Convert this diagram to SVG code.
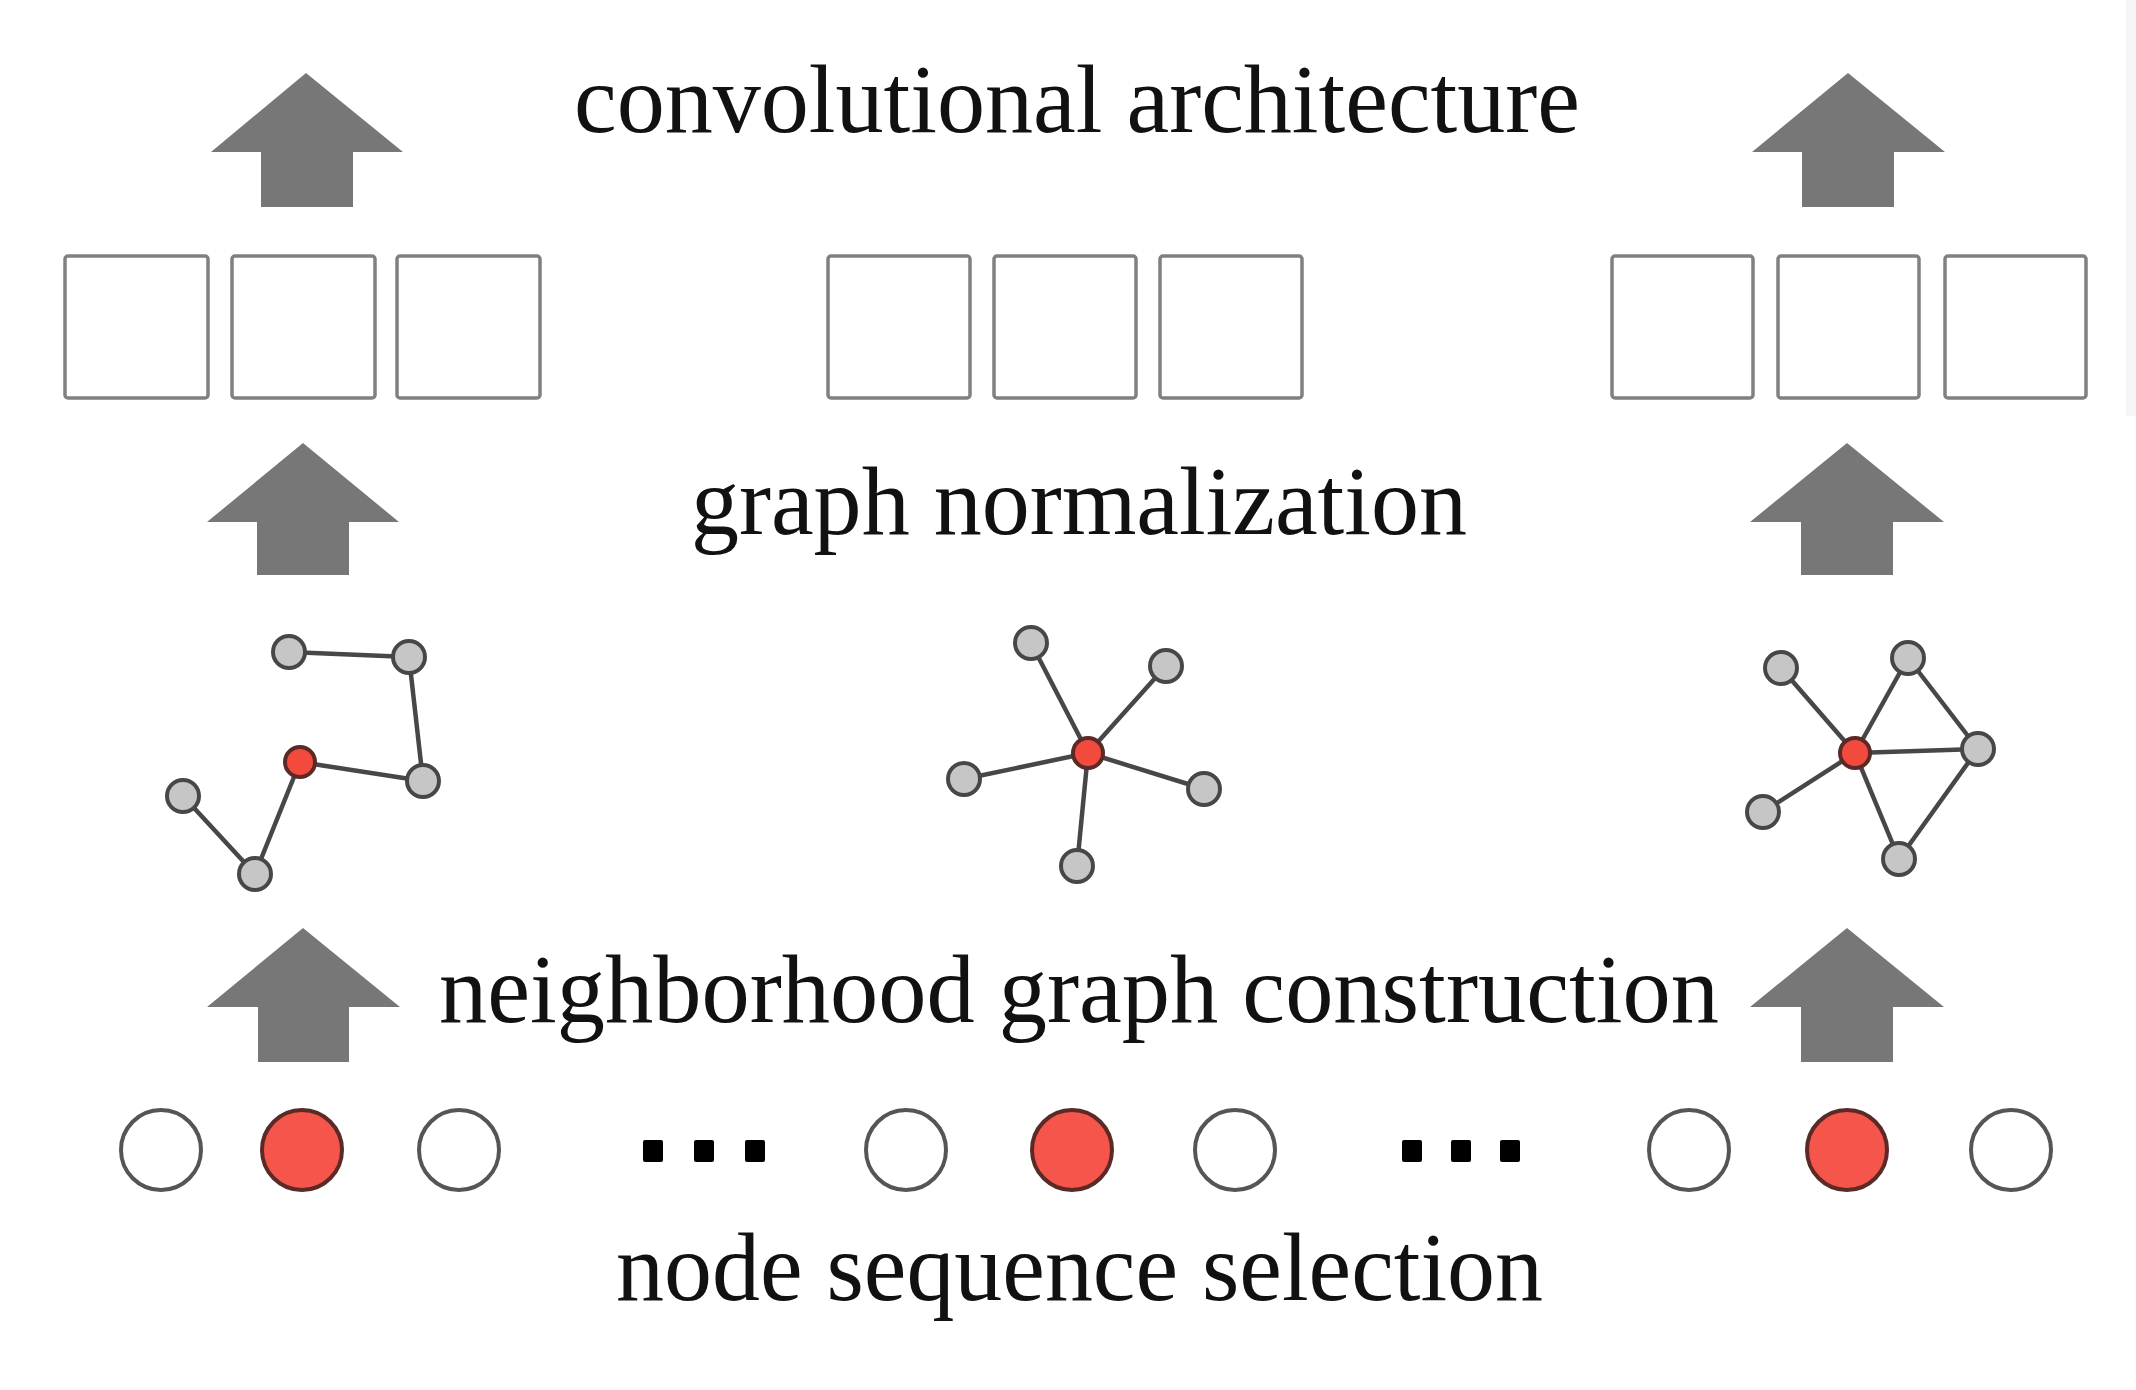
<svg xmlns="http://www.w3.org/2000/svg" width="2136" height="1390" viewBox="0 0 2136 1390">
<style>
.lbl{font-family:"Liberation Serif","Times New Roman",serif;font-size:97px;fill:#111}
.arr{fill:#777}
.box{fill:#fff;stroke:#808080;stroke-width:3.5}
.edge{stroke:#474747;stroke-width:4.5;fill:none}
.gn{fill:#c6c6c6;stroke:#474747;stroke-width:4}
.rn{fill:#f34a3e;stroke:#5a2a26;stroke-width:4}
.sn{fill:#fff;stroke:#555;stroke-width:4}
.sr{fill:#f5554a;stroke:#5a2a26;stroke-width:4}
.dot{fill:#000}
</style>
<rect width="2136" height="1390" fill="#fff"/>
<rect x="2126" y="0" width="10" height="416" fill="#f5f5f5"/>

<g id="labels">
<text class="lbl" x="574" y="132" textLength="1006" lengthAdjust="spacingAndGlyphs">convolutional architecture</text>
<text class="lbl" x="691" y="534" textLength="776" lengthAdjust="spacingAndGlyphs">graph normalization</text>
<text class="lbl" x="439" y="1022" textLength="1280" lengthAdjust="spacingAndGlyphs">neighborhood graph construction</text>
<text class="lbl" x="616" y="1300" textLength="927" lengthAdjust="spacingAndGlyphs">node sequence selection</text>
</g>

<g id="arrows">
<path class="arr" d="M306,73 L403,152 L353,152 L353,207 L261,207 L261,152 L211,152 Z"/>
<path class="arr" d="M1848,73 L1945,152 L1894,152 L1894,207 L1802,207 L1802,152 L1752,152 Z"/>
<path class="arr" d="M303,443 L399,522 L349,522 L349,575 L257,575 L257,522 L207,522 Z"/>
<path class="arr" d="M1847,443 L1944,522 L1893,522 L1893,575 L1801,575 L1801,522 L1750,522 Z"/>
<path class="arr" d="M303,928 L400,1007 L349,1007 L349,1062 L258,1062 L258,1007 L207,1007 Z"/>
<path class="arr" d="M1847,928 L1944,1007 L1893,1007 L1893,1062 L1801,1062 L1801,1007 L1750,1007 Z"/>
</g>

<g id="boxes-left">
<rect class="box" x="65" y="256" width="143" height="142" rx="3"/>
<rect class="box" x="232" y="256" width="143" height="142" rx="3"/>
<rect class="box" x="397" y="256" width="143" height="142" rx="3"/>
</g>
<g id="boxes-middle">
<rect class="box" x="828" y="256" width="142" height="142" rx="3"/>
<rect class="box" x="994" y="256" width="142" height="142" rx="3"/>
<rect class="box" x="1160" y="256" width="142" height="142" rx="3"/>
</g>
<g id="boxes-right">
<rect class="box" x="1612" y="256" width="141" height="142" rx="3"/>
<rect class="box" x="1778" y="256" width="141" height="142" rx="3"/>
<rect class="box" x="1945" y="256" width="141" height="142" rx="3"/>
</g>

<g id="connectors">
<line class="edge" x1="289" y1="652" x2="409" y2="657"/>
<line class="edge" x1="409" y1="657" x2="423" y2="781"/>
<line class="edge" x1="300" y1="762" x2="423" y2="781"/>
<line class="edge" x1="300" y1="762" x2="255" y2="874"/>
<line class="edge" x1="183" y1="796" x2="255" y2="874"/>

<line class="edge" x1="1088" y1="753" x2="1031" y2="643"/>
<line class="edge" x1="1088" y1="753" x2="1166" y2="666"/>
<line class="edge" x1="1088" y1="753" x2="964" y2="779"/>
<line class="edge" x1="1088" y1="753" x2="1204" y2="789"/>
<line class="edge" x1="1088" y1="753" x2="1077" y2="866"/>

<line class="edge" x1="1855" y1="753" x2="1781" y2="668"/>
<line class="edge" x1="1855" y1="753" x2="1908" y2="658"/>
<line class="edge" x1="1855" y1="753" x2="1978" y2="749"/>
<line class="edge" x1="1855" y1="753" x2="1763" y2="812"/>
<line class="edge" x1="1855" y1="753" x2="1899" y2="859"/>
<line class="edge" x1="1908" y1="658" x2="1978" y2="749"/>
<line class="edge" x1="1978" y1="749" x2="1899" y2="859"/>
</g>

<g id="graph-left">
<circle class="gn" cx="289" cy="652" r="16"/>
<circle class="gn" cx="409" cy="657" r="16"/>
<circle class="rn" cx="300" cy="762" r="15"/>
<circle class="gn" cx="423" cy="781" r="16"/>
<circle class="gn" cx="183" cy="796" r="16"/>
<circle class="gn" cx="255" cy="874" r="16"/>
</g>
<g id="graph-middle">
<circle class="gn" cx="1031" cy="643" r="16"/>
<circle class="gn" cx="1166" cy="666" r="16"/>
<circle class="rn" cx="1088" cy="753" r="15"/>
<circle class="gn" cx="964" cy="779" r="16"/>
<circle class="gn" cx="1204" cy="789" r="16"/>
<circle class="gn" cx="1077" cy="866" r="16"/>
</g>
<g id="graph-right">
<circle class="gn" cx="1781" cy="668" r="16"/>
<circle class="gn" cx="1908" cy="658" r="16"/>
<circle class="rn" cx="1855" cy="753" r="15"/>
<circle class="gn" cx="1978" cy="749" r="16"/>
<circle class="gn" cx="1763" cy="812" r="16"/>
<circle class="gn" cx="1899" cy="859" r="16"/>
</g>

<g id="sequence">
<circle class="sn" cx="161" cy="1150" r="40"/>
<circle class="sr" cx="302" cy="1150" r="40"/>
<circle class="sn" cx="459" cy="1150" r="40"/>
<rect class="dot" x="643" y="1140" width="20" height="22" rx="2"/>
<rect class="dot" x="694" y="1140" width="20" height="22" rx="2"/>
<rect class="dot" x="745" y="1140" width="20" height="22" rx="2"/>
<circle class="sn" cx="906" cy="1150" r="40"/>
<circle class="sr" cx="1072" cy="1150" r="40"/>
<circle class="sn" cx="1235" cy="1150" r="40"/>
<rect class="dot" x="1402" y="1140" width="20" height="22" rx="2"/>
<rect class="dot" x="1451" y="1140" width="20" height="22" rx="2"/>
<rect class="dot" x="1500" y="1140" width="20" height="22" rx="2"/>
<circle class="sn" cx="1689" cy="1150" r="40"/>
<circle class="sr" cx="1847" cy="1150" r="40"/>
<circle class="sn" cx="2011" cy="1150" r="40"/>
</g>
</svg>
